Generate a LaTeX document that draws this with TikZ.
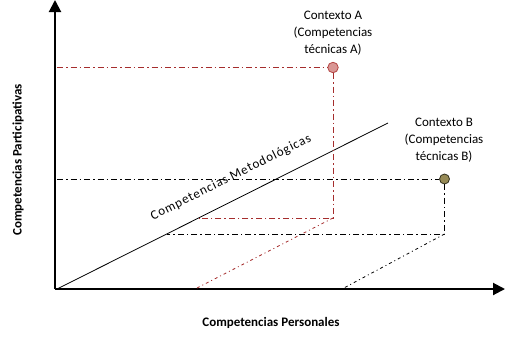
\documentclass[tikz,border=0pt]{standalone}
\usepackage{fontspec}
\setmainfont{Carlito}
\usetikzlibrary{arrows.meta}
\definecolor{redline}{RGB}{165,45,45}
\definecolor{afill}{RGB}{217,150,148}
\definecolor{aedge}{RGB}{180,70,68}
\definecolor{bfill}{RGB}{150,138,86}
\definecolor{bedge}{RGB}{50,48,30}
\tikzset{
  axis/.style={line width=2pt,-{Triangle[width=12pt,length=12pt]}},
  ddot/.style={line width=0.8pt,dash pattern=on 6pt off 3pt on 1.5pt off 3pt},
  sparse/.style={line width=0.8pt,dash pattern=on 3pt off 3pt on 1pt off 3pt},
  ptA/.style={circle,draw=aedge,fill=afill,line width=0.8pt,minimum size=10.5pt,inner sep=0pt},
  ptB/.style={circle,draw=bedge,fill=bfill,line width=0.8pt,minimum size=10pt,inner sep=0pt},
  lbl/.style={align=center,font=\fontsize{13}{17}\selectfont},
  axlbl/.style={font=\fontsize{13}{16}\selectfont\bfseries}
}
\begin{document}
\begin{tikzpicture}[x=1pt,y=-1pt]
\useasboundingbox (0,0) rectangle (505,340);
\coordinate (O) at (55,289);
\coordinate (Xe) at (505,289);
\coordinate (Ye) at (55,0);
\draw[axis] (O) -- (Xe);
\draw[axis] (O) -- (Ye);
\coordinate (D1) at (57,289);
\coordinate (D2) at (388,123);
\draw[line width=0.8pt] (D1) -- (D2);
% point A
\node[ptA] (A) at (333,67.5) {};
\coordinate (Ay) at (57,67.5);
\coordinate (Ac) at (333,218);
\coordinate (Ad) at (198.5,218);
\coordinate (Ab) at (195,289);
\draw[ddot,redline] (Ay) -- (A.west);
\draw[ddot,redline] (A.south) -- (Ac) -- (Ad);
\draw[sparse,redline] (Ac) -- (Ab);
% point B
\node[ptB] (B) at (444.5,179) {};
\coordinate (By) at (57,179);
\coordinate (Bc) at (444.5,234);
\coordinate (Bd) at (167,234);
\coordinate (Bb) at (342,289);
\draw[ddot] (By) -- (B.west);
\draw[ddot] (B.south) -- (Bc) -- (Bd);
\draw[sparse] (Bc) -- (Bb);
% labels
\node[lbl] (LA) at (333,33) {Contexto A\\(Competencias\\técnicas A)};
\node[lbl] (LB) at (444,140.5) {Contexto B\\(Competencias\\técnicas B)};
\node[lbl,rotate=26.6,font=\fontsize{13}{17}\selectfont\addfontfeature{LetterSpace=7}] (LM) at (231,177.5) {Competencias Metodológicas};
\node[axlbl] (LX) at (271,323) {Competencias Personales};
\node[axlbl,rotate=90] (LY) at (18,160) {Competencias Participativas};
\end{tikzpicture}
\end{document}
